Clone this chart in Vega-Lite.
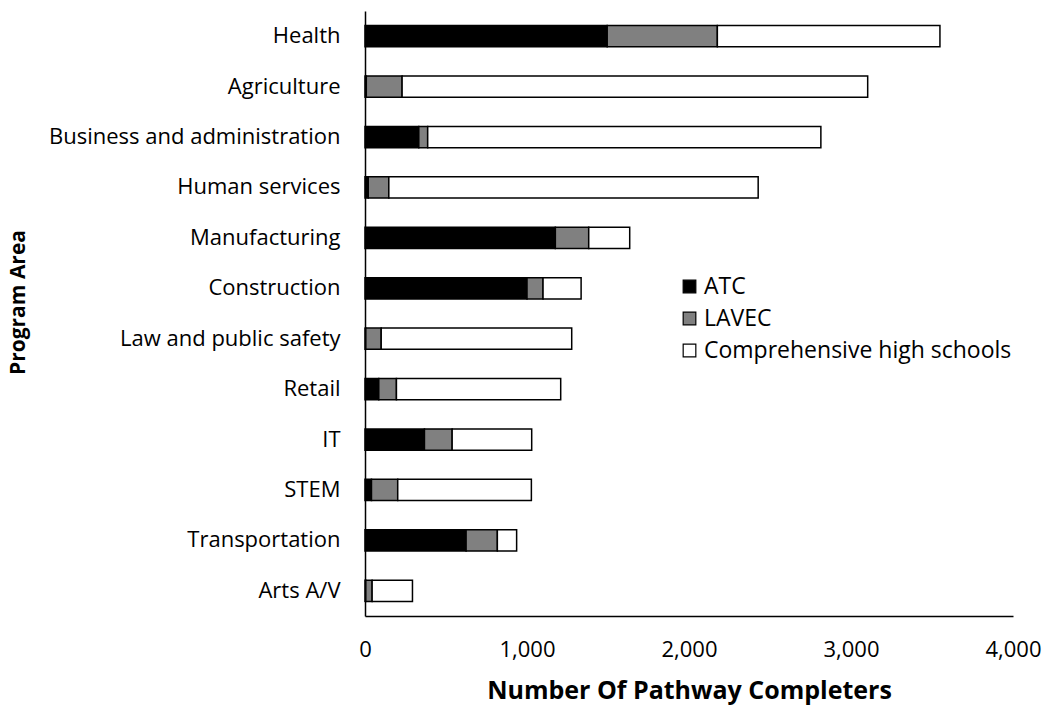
{
  "$schema": "https://vega.github.io/schema/vega-lite/v6.json",
  "width": 648,
  "height": 605,
  "autosize": {"type": "none"},
  "padding": {"left": 365, "top": 11, "right": 32, "bottom": 90},
  "background": "white",
  "config": {
    "view": {"stroke": null},
    "font": "Open Sans"
  },
  "data": {
    "values": [
      {"area": "Health\u00a0", "type": "ATC", "n": 1495},
      {"area": "Health\u00a0", "type": "LAVEC", "n": 680},
      {"area": "Health\u00a0", "type": "Comprehensive high schools", "n": 1374},
      {"area": "Agriculture\u00a0", "type": "ATC", "n": 8},
      {"area": "Agriculture\u00a0", "type": "LAVEC", "n": 221},
      {"area": "Agriculture\u00a0", "type": "Comprehensive high schools", "n": 2874},
      {"area": "Business and administration", "type": "ATC", "n": 332},
      {"area": "Business and administration", "type": "LAVEC", "n": 55},
      {"area": "Business and administration", "type": "Comprehensive high schools", "n": 2427},
      {"area": "Human services", "type": "ATC", "n": 20},
      {"area": "Human services", "type": "LAVEC", "n": 127},
      {"area": "Human services", "type": "Comprehensive high schools", "n": 2280},
      {"area": "Manufacturing", "type": "ATC", "n": 1175},
      {"area": "Manufacturing", "type": "LAVEC", "n": 206},
      {"area": "Manufacturing", "type": "Comprehensive high schools", "n": 253},
      {"area": "Construction", "type": "ATC", "n": 1000},
      {"area": "Construction", "type": "LAVEC", "n": 99},
      {"area": "Construction", "type": "Comprehensive high schools", "n": 235},
      {"area": "Law and public safety", "type": "ATC", "n": 5},
      {"area": "Law and public safety", "type": "LAVEC", "n": 95},
      {"area": "Law and public safety", "type": "Comprehensive high schools", "n": 1176},
      {"area": "Retail\u00a0", "type": "ATC", "n": 85},
      {"area": "Retail\u00a0", "type": "LAVEC", "n": 109},
      {"area": "Retail\u00a0", "type": "Comprehensive high schools", "n": 1014},
      {"area": "IT", "type": "ATC", "n": 367},
      {"area": "IT", "type": "LAVEC", "n": 171},
      {"area": "IT", "type": "Comprehensive high schools", "n": 491},
      {"area": "STEM", "type": "ATC", "n": 40},
      {"area": "STEM", "type": "LAVEC", "n": 162},
      {"area": "STEM", "type": "Comprehensive high schools", "n": 825},
      {"area": "Transportation", "type": "ATC", "n": 624},
      {"area": "Transportation", "type": "LAVEC", "n": 193},
      {"area": "Transportation", "type": "Comprehensive high schools", "n": 119},
      {"area": "Arts A/V\u00a0", "type": "ATC", "n": 5},
      {"area": "Arts A/V\u00a0", "type": "LAVEC", "n": 39},
      {"area": "Arts A/V\u00a0", "type": "Comprehensive high schools", "n": 249}
    ]
  },
  "transform": [
    {"calculate": "indexof(['ATC', 'LAVEC', 'Comprehensive high schools'], datum.type)", "as": "stackOrder"}
  ],
  "mark": {"type": "bar", "stroke": "black", "strokeWidth": 1.5},
  "encoding": {
    "y": {
      "field": "area",
      "type": "nominal",
      "sort": null,
      "scale": {"paddingInner": 0.58, "paddingOuter": 0.29},
      "axis": {
        "title": "Program Area",
        "titleFont": "Open Sans",
        "titleFontSize": 21,
        "titleFontWeight": "bold",
        "titleColor": "black",
        "titleAngle": -90,
        "titleX": -347,
        "titleY": 291,
        "titleAlign": "center",
        "titleBaseline": "middle",
        "labelFontSize": 22,
        "labelLimit": 400,
        "labelColor": "black",
        "labelPadding": 25,
        "ticks": false,
        "domainColor": "black",
        "domainWidth": 1.5
      }
    },
    "x": {
      "field": "n",
      "type": "quantitative",
      "stack": "zero",
      "scale": {"domain": [0, 4000], "nice": false},
      "axis": {
        "title": "Number Of Pathway Completers",
        "titleFont": "Open Sans",
        "titleFontSize": 25,
        "titleFontWeight": "bold",
        "titleColor": "black",
        "titleY": 74,
        "titleBaseline": "middle",
        "values": [0, 1000, 2000, 3000, 4000],
        "format": ",.0f",
        "labelFontSize": 22,
        "labelColor": "black",
        "labelPadding": 23,
        "labelFlush": false,
        "ticks": false,
        "grid": false,
        "domainColor": "black",
        "domainWidth": 1.5
      }
    },
    "color": {
      "field": "type",
      "type": "nominal",
      "sort": ["ATC", "LAVEC", "Comprehensive high schools"],
      "scale": {
        "domain": ["ATC", "LAVEC", "Comprehensive high schools"],
        "range": ["#000000", "#808080", "#ffffff"]
      },
      "legend": {
        "title": null,
        "orient": "none",
        "legendX": 313,
        "legendY": 264,
        "symbolType": "square",
        "symbolSize": 160,
        "symbolStrokeColor": "black",
        "symbolStrokeWidth": 1.2,
        "labelFontSize": 23,
        "labelLimit": 400,
        "labelColor": "black",
        "labelOffset": 3,
        "rowPadding": 8
      }
    },
    "order": {"field": "stackOrder", "type": "quantitative", "sort": "ascending"}
  }
}
